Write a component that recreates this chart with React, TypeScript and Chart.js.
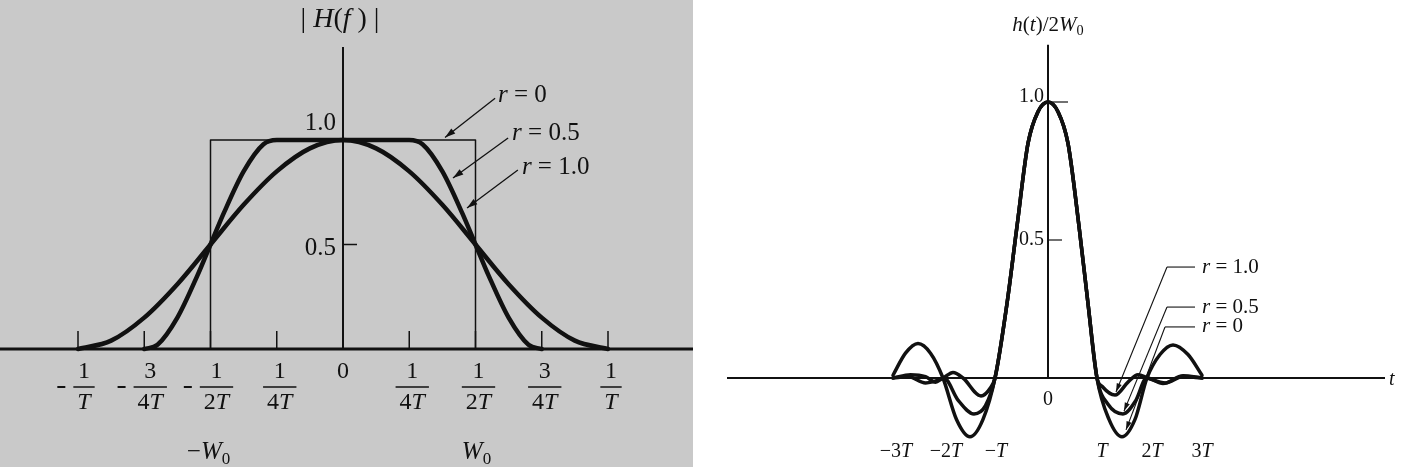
import React, { useEffect, useRef } from "react";
import { Chart, registerables } from "chart.js";

Chart.register(...registerables);

// ---------- Left panel: |H(f)|, f in units of 1/T ----------
const fRect = [-0.5, -0.5, 0.5, 0.5];
const hRect = [0, 1, 1, 0];
const fR05 = [-0.75, -0.7, -0.625, -0.55, -0.5, -0.45, -0.375, -0.3, -0.25, 0, 0.25, 0.3, 0.375, 0.45, 0.5, 0.55, 0.625, 0.7, 0.75];
const hR05 = [0, 0.02, 0.15, 0.35, 0.5, 0.65, 0.85, 0.98, 1, 1, 1, 0.98, 0.85, 0.65, 0.5, 0.35, 0.15, 0.02, 0];
const fR10 = [-1, -0.875, -0.75, -0.625, -0.5, -0.375, -0.25, -0.125, 0, 0.125, 0.25, 0.375, 0.5, 0.625, 0.75, 0.875, 1];
const hR10 = [0, 0.04, 0.15, 0.31, 0.5, 0.69, 0.85, 0.96, 1, 0.96, 0.85, 0.69, 0.5, 0.31, 0.15, 0.04, 0];

const leftTickValues = [-1, -0.75, -0.5, -0.25, 0, 0.25, 0.5, 0.75, 1];
const leftTickNum = ["1", "3", "1", "1", "0", "1", "1", "3", "1"];
const leftTickDen = ["T", "4T", "2T", "4T", "", "4T", "2T", "4T", "T"];
const leftTickNeg = [true, true, true, false, false, false, false, false, false];
const leftYTicks = [1.0, 0.5];
const leftYTickLabels = ["1.0", "0.5"];

// ---------- Right panel: h(t)/2W0, t in units of T ----------
const tR0 = [-3.1, -2.85, -2.6, -2.35, -2.1, -1.83, -1.56, -1.3, -1.06, -0.82, -0.62, -0.4, -0.2, 0, 0.2, 0.4, 0.62, 0.8, 0.98, 1.22, 1.48, 1.74, 1.98, 2.24, 2.5, 2.8, 3.08];
const hR0 = [0.01, 0.09, 0.125, 0.09, 0, -0.15, -0.213, -0.15, 0, 0.27, 0.55, 0.85, 0.965, 1.0, 0.965, 0.85, 0.55, 0.27, 0, -0.15, -0.213, -0.15, 0, 0.085, 0.12, 0.085, 0.01];
const tR05 = [-3.1, -2.75, -2.45, -2.25, -2.08, -1.8, -1.48, -1.25, -1.06, -0.82, -0.62, -0.4, -0.2, 0, 0.2, 0.4, 0.62, 0.8, 0.98, 1.2, 1.5, 1.76, 1.97, 2.3, 2.7, 3.08];
const hR05t = [0, 0.012, 0.005, -0.015, 0, -0.08, -0.13, -0.1, 0, 0.27, 0.55, 0.85, 0.965, 1.0, 0.965, 0.85, 0.55, 0.27, 0, -0.095, -0.13, -0.08, 0, -0.02, 0.008, 0];
const tR10 = [-3.1, -2.8, -2.45, -2.1, -1.9, -1.7, -1.34, -1.15, -1.06, -0.82, -0.62, -0.4, -0.2, 0, 0.2, 0.4, 0.62, 0.8, 0.98, 1.08, 1.34, 1.6, 1.8, 2.0, 2.35, 2.7, 3.08];
const hR10t = [0, 0.005, -0.018, 0, 0.02, 0, -0.065, -0.035, 0, 0.27, 0.55, 0.85, 0.965, 1.0, 0.965, 0.85, 0.55, 0.27, 0, -0.03, -0.062, -0.015, 0.012, 0, -0.018, 0.005, 0];

const rightTickValues = [-3, -2, -1, 1, 2, 3];
const rightTickLabels = ["\u22123", "\u22122", "\u2212", "", "2", "3"];
const rightYTicks = [1.0, 0.5];
const rightYTickLabels = ["1.0", "0.5"];

const INK = "#111111";
const SERIF = '"Liberation Serif", "DejaVu Serif", "Times New Roman", serif';

type Seg = { t: string; i?: boolean; sub?: boolean };

function fontOf(size: number, italic: boolean) {
  return `${italic ? "italic " : ""}${size}px ${SERIF}`;
}

function drawRich(ctx: CanvasRenderingContext2D, segs: Seg[], x: number, y: number, size: number, align: "left" | "center" | "right") {
  ctx.textBaseline = "middle";
  ctx.textAlign = "left";
  const widths = segs.map((s) => {
    ctx.font = fontOf(s.sub ? size * 0.68 : size, !!s.i);
    return ctx.measureText(s.t).width;
  });
  const total = widths.reduce((a, b) => a + b, 0);
  let cx = align === "center" ? x - total / 2 : align === "right" ? x - total : x;
  segs.forEach((s, k) => {
    ctx.font = fontOf(s.sub ? size * 0.68 : size, !!s.i);
    ctx.fillText(s.t, cx, y + (s.sub ? size * 0.3 : 0));
    cx += widths[k];
  });
  return total;
}

function richWidth(ctx: CanvasRenderingContext2D, segs: Seg[], size: number) {
  let w = 0;
  segs.forEach((s) => {
    ctx.font = fontOf(s.sub ? size * 0.68 : size, !!s.i);
    w += ctx.measureText(s.t).width;
  });
  return w;
}

function line(ctx: CanvasRenderingContext2D, x1: number, y1: number, x2: number, y2: number) {
  ctx.beginPath();
  ctx.moveTo(x1, y1);
  ctx.lineTo(x2, y2);
  ctx.stroke();
}

function arrow(ctx: CanvasRenderingContext2D, x1: number, y1: number, x2: number, y2: number, head = 9) {
  line(ctx, x1, y1, x2, y2);
  const a = Math.atan2(y2 - y1, x2 - x1);
  ctx.beginPath();
  ctx.moveTo(x2, y2);
  ctx.lineTo(x2 - head * Math.cos(a - 0.3), y2 - head * Math.sin(a - 0.3));
  ctx.lineTo(x2 - head * Math.cos(a + 0.3), y2 - head * Math.sin(a + 0.3));
  ctx.closePath();
  ctx.fill();
}

function denSegs(d: string): Seg[] {
  if (!d) return [];
  const segs: Seg[] = [];
  const lead = d.slice(0, -1);
  if (lead) segs.push({ t: lead });
  segs.push({ t: "T", i: true });
  return segs;
}

// Annotation positions in data units
const leftNotes = [
  { label: "0", tx: 0.585, ty: 1.215, ax: 0.574, ay: 1.2, bx: 0.385, by: 1.012 },
  { label: "0.5", tx: 0.638, ty: 1.033, ax: 0.623, ay: 1.01, bx: 0.415, by: 0.818 },
  { label: "1.0", tx: 0.675, ty: 0.871, ax: 0.66, ay: 0.856, bx: 0.468, by: 0.675 },
];
const rightNotes = [
  { label: "1.0", tx: 3.08, ty: 0.402, hx0: 2.38, hx1: 2.94, bx: 1.36, by: -0.051 },
  { label: "0.5", tx: 3.08, ty: 0.257, hx0: 2.38, hx1: 2.94, bx: 1.52, by: -0.12 },
  { label: "0", tx: 3.08, ty: 0.185, hx0: 2.34, hx1: 2.94, bx: 1.56, by: -0.188 },
];

const leftDecor = {
  id: "leftDecor",
  beforeDatasetsDraw(chart: any) {
    const { ctx, chartArea } = chart;
    const xs = chart.scales.x, ys = chart.scales.y;
    const x0 = xs.getPixelForValue(0), y0 = ys.getPixelForValue(0);
    ctx.save();
    ctx.strokeStyle = INK;
    ctx.lineWidth = 3;
    line(ctx, chartArea.left, y0, chartArea.right, y0);
    ctx.lineWidth = 2;
    line(ctx, x0, ys.getPixelForValue(1.445), x0, y0);
    ctx.lineWidth = 1.5;
    leftTickValues.forEach((v) => {
      if (v === 0) return;
      const px = xs.getPixelForValue(v);
      line(ctx, px, y0, px, y0 - 18);
    });
    line(ctx, x0, ys.getPixelForValue(0.5), x0 + 14, ys.getPixelForValue(0.5));
    ctx.restore();
  },
  afterDraw(chart: any) {
    const { ctx } = chart;
    const xs = chart.scales.x, ys = chart.scales.y;
    const x0 = xs.getPixelForValue(0), y0 = ys.getPixelForValue(0);
    ctx.save();
    ctx.fillStyle = INK;
    ctx.strokeStyle = INK;
    // title
    drawRich(ctx, [{ t: "| " }, { t: "H", i: true }, { t: "(" }, { t: "f", i: true }, { t: " )" }, { t: " |" }], x0 - 3, 20, 28, "center");
    // y tick labels
    leftYTicks.forEach((v, k) => {
      const py = ys.getPixelForValue(v) + (v === 1 ? -17 : 4);
      drawRich(ctx, [{ t: leftYTickLabels[k] }], x0 - 7, py, 25, "right");
    });
    // x tick labels (fractions)
    const size = 24;
    leftTickValues.forEach((v, k) => {
      const px = xs.getPixelForValue(v);
      if (!leftTickDen[k]) {
        drawRich(ctx, [{ t: leftTickNum[k] }], px, y0 + 23, size, "center");
        return;
      }
      const cx = px + (leftTickNeg[k] ? 6 : 3);
      const den = denSegs(leftTickDen[k]);
      const w = richWidth(ctx, den, size) + 8;
      drawRich(ctx, [{ t: leftTickNum[k] }], cx, y0 + 23, size, "center");
      ctx.lineWidth = 1.5;
      line(ctx, cx - w / 2, y0 + 38, cx + w / 2, y0 + 38);
      drawRich(ctx, den, cx, y0 + 54, size, "center");
      if (leftTickNeg[k]) {
        ctx.lineWidth = 2;
        line(ctx, cx - w / 2 - 16, y0 + 38, cx - w / 2 - 8, y0 + 38);
      }
    });
    // W0 labels
    drawRich(ctx, [{ t: "\u2212" }, { t: "W", i: true }, { t: "0", sub: true }], xs.getPixelForValue(-0.5) - 2, y0 + 103, 25, "center");
    drawRich(ctx, [{ t: "W", i: true }, { t: "0", sub: true }], xs.getPixelForValue(0.5) + 1, y0 + 103, 25, "center");
    // annotations
    ctx.lineWidth = 1.3;
    leftNotes.forEach((n) => {
      drawRich(ctx, [{ t: "r", i: true }, { t: " = " + n.label }], xs.getPixelForValue(n.tx), ys.getPixelForValue(n.ty), 25, "left");
      arrow(ctx, xs.getPixelForValue(n.ax), ys.getPixelForValue(n.ay), xs.getPixelForValue(n.bx), ys.getPixelForValue(n.by), 11);
    });
    ctx.restore();
  },
};

const rightDecor = {
  id: "rightDecor",
  beforeDatasetsDraw(chart: any) {
    const { ctx } = chart;
    const xs = chart.scales.x, ys = chart.scales.y;
    const x0 = xs.getPixelForValue(0), y0 = ys.getPixelForValue(0);
    ctx.save();
    ctx.strokeStyle = INK;
    ctx.lineWidth = 2;
    line(ctx, xs.getPixelForValue(-6.42), y0, xs.getPixelForValue(6.74), y0);
    line(ctx, x0, ys.getPixelForValue(1.207), x0, y0);
    ctx.lineWidth = 1.2;
    line(ctx, x0, ys.getPixelForValue(1), x0 + 20, ys.getPixelForValue(1));
    line(ctx, x0, ys.getPixelForValue(0.5), x0 + 14, ys.getPixelForValue(0.5));
    ctx.restore();
  },
  afterDraw(chart: any) {
    const { ctx } = chart;
    const xs = chart.scales.x, ys = chart.scales.y;
    const x0 = xs.getPixelForValue(0), y0 = ys.getPixelForValue(0);
    ctx.save();
    ctx.fillStyle = INK;
    ctx.strokeStyle = INK;
    drawRich(ctx, [{ t: "h", i: true }, { t: "(" }, { t: "t", i: true }, { t: ")/2" }, { t: "W", i: true }, { t: "0", sub: true }], x0, 25, 21, "center");
    rightYTicks.forEach((v, k) => {
      const py = ys.getPixelForValue(v) + (v === 1 ? -5 : 0);
      drawRich(ctx, [{ t: rightYTickLabels[k] }], x0 - 4, py, 20, "right");
    });
    drawRich(ctx, [{ t: "0" }], x0, y0 + 22, 20, "center");
    rightTickValues.forEach((v, k) => {
      const px = xs.getPixelForValue(v) + (v < 0 ? -2 : 4);
      drawRich(ctx, [{ t: rightTickLabels[k] }, { t: "T", i: true }], px, y0 + 74, 20, "center");
    });
    drawRich(ctx, [{ t: "t", i: true }], xs.getPixelForValue(6.82), y0 + 2, 20, "left");
    ctx.lineWidth = 1.1;
    rightNotes.forEach((n) => {
      const py = ys.getPixelForValue(n.ty);
      drawRich(ctx, [{ t: "r", i: true }, { t: " = " + n.label }], xs.getPixelForValue(n.tx), py, 21, "left");
      line(ctx, xs.getPixelForValue(n.hx0), py, xs.getPixelForValue(n.hx1), py);
      arrow(ctx, xs.getPixelForValue(n.hx0), py, xs.getPixelForValue(n.bx), ys.getPixelForValue(n.by), 9);
    });
    ctx.restore();
  },
};

function pts(xs: number[], ys: number[]) {
  return xs.map((x, i) => ({ x, y: ys[i] }));
}

function curve(xs: number[], ys: number[], width: number, smooth = true) {
  return {
    data: pts(xs, ys),
    borderColor: INK,
    borderWidth: width,
    pointRadius: 0,
    fill: false,
    tension: 0,
    cubicInterpolationMode: smooth ? ("monotone" as const) : ("default" as const),
    borderJoinStyle: "round" as const,
    borderCapStyle: "round" as const,
  };
}

function baseOptions(xmin: number, xmax: number, ymin: number, ymax: number) {
  return {
    animation: false as const,
    responsive: false,
    maintainAspectRatio: false,
    layout: { padding: 0 },
    events: [] as any[],
    plugins: { legend: { display: false }, tooltip: { enabled: false }, title: { display: false } },
    scales: {
      x: { type: "linear" as const, min: xmin, max: xmax, display: false },
      y: { type: "linear" as const, min: ymin, max: ymax, display: false },
    },
  };
}

export default function App() {
  const leftRef = useRef<HTMLCanvasElement>(null);
  const rightRef = useRef<HTMLCanvasElement>(null);

  useEffect(() => {
    const left = new Chart(leftRef.current as HTMLCanvasElement, {
      type: "line",
      data: {
        datasets: [curve(fRect, hRect, 1.5, false), curve(fR05, hR05, 4.5), curve(fR10, hR10, 4.5)] as any,
      },
      options: baseOptions(-343 / 265, 350 / 265, -118 / 209, 349 / 209) as any,
      plugins: [leftDecor],
    });
    const right = new Chart(rightRef.current as HTMLCanvasElement, {
      type: "line",
      data: {
        datasets: [curve(tR0, hR0, 3.5), curve(tR05, hR05t, 3.5), curve(tR10, hR10t, 3.5)] as any,
      },
      options: baseOptions(-355 / 50, 354 / 50, -89 / 276, 378 / 276) as any,
      plugins: [rightDecor],
    });
    return () => {
      left.destroy();
      right.destroy();
    };
  }, []);

  return (
    <div style={{ position: "absolute", left: 0, top: 0, width: 1402, height: 467, display: "flex", background: "#ffffff" }}>
      <canvas ref={leftRef} width={693} height={467} style={{ display: "block", width: 693, height: 467, background: "#c9c9c9" }} />
      <canvas ref={rightRef} width={709} height={467} style={{ display: "block", width: 709, height: 467, background: "#ffffff" }} />
    </div>
  );
}
